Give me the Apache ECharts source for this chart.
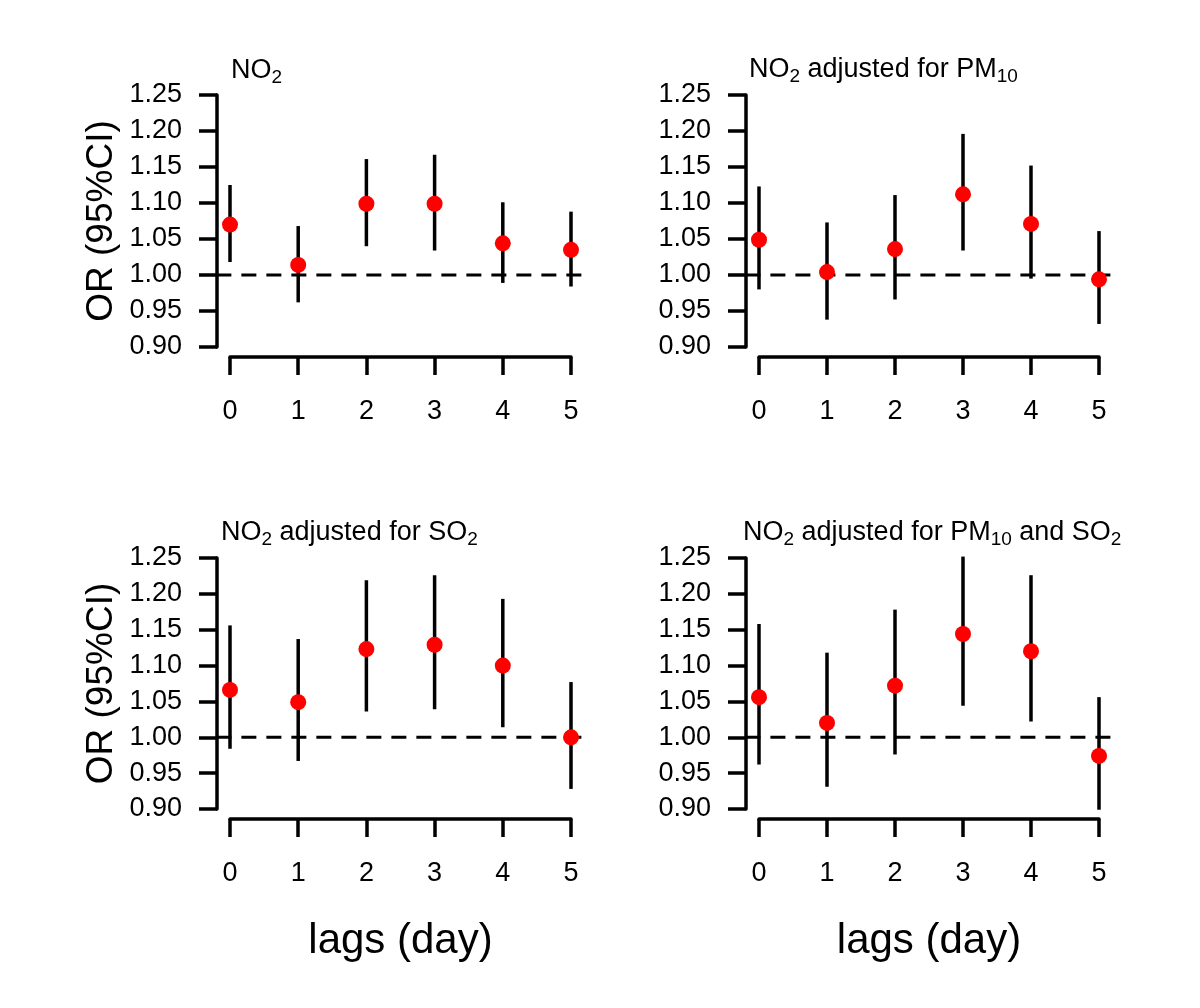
<!DOCTYPE html>
<html>
<head>
<meta charset="utf-8">
<script src="https://cdn.jsdelivr.net/npm/echarts@6/dist/echarts.min.js"></script>
<style>
  html, body { margin: 0; padding: 0; background: #fff; }
  #main { width: 1200px; height: 1008px; }
</style>
</head>
<body>
<div id="main"></div>
<script>
// lags (day)
var lags = [0, 1, 2, 3, 4, 5];
var refLine = 1;

// NO2
var no2Or = [1.070, 1.014, 1.099, 1.099, 1.044, 1.035];
var no2Lo = [1.018, 0.962, 1.040, 1.034, 0.989, 0.984];
var no2Hi = [1.125, 1.068, 1.161, 1.167, 1.101, 1.088];
// NO2 adjusted for PM10
var pmOr = [1.049, 1.004, 1.036, 1.112, 1.071, 0.994];
var pmLo = [0.980, 0.938, 0.966, 1.034, 0.995, 0.932];
var pmHi = [1.123, 1.073, 1.111, 1.196, 1.152, 1.061];
// NO2 adjusted for SO2
var soOr = [1.066, 1.049, 1.123, 1.129, 1.100, 1.000];
var soLo = [0.984, 0.967, 1.036, 1.039, 1.014, 0.928];
var soHi = [1.156, 1.137, 1.219, 1.226, 1.193, 1.077];
// NO2 adjusted for PM10 and SO2
var bothOr = [1.056, 1.020, 1.072, 1.144, 1.120, 0.974];
var bothLo = [0.962, 0.931, 0.976, 1.044, 1.022, 0.899];
var bothHi = [1.158, 1.118, 1.178, 1.252, 1.226, 1.056];

var FONT = 'Liberation Sans, Arial, Helvetica, sans-serif';

var panels = [
  { title: '{n|NO}{s|2}', left: 230, top: 95, height: 252, width: 341, tl: 231, tt: 57, yName: true, xName: false, or: no2Or, lo: no2Lo, hi: no2Hi },
  { title: '{n|NO}{s|2}{n| adjusted for PM}{s|10}', left: 759, top: 95, height: 252, width: 340, tl: 749, tt: 56, yName: false, xName: false, or: pmOr, lo: pmLo, hi: pmHi },
  { title: '{n|NO}{s|2}{n| adjusted for SO}{s|2}', left: 230, top: 558, height: 251, width: 341, tl: 221, tt: 519, yName: true, xName: true, or: soOr, lo: soLo, hi: soHi },
  { title: '{n|NO}{s|2}{n| adjusted for PM}{s|10}{n| and SO}{s|2}', left: 759, top: 558, height: 251, width: 340, tl: 743, tt: 519, yName: false, xName: true, or: bothOr, lo: bothLo, hi: bothHi }
];

var titleRich = {
  n: { fontSize: 27, fontFamily: FONT, fontWeight: 'normal', color: '#000', lineHeight: 30, verticalAlign: 'top' },
  s: { fontSize: 19, fontFamily: FONT, fontWeight: 'normal', color: '#000', lineHeight: 19, verticalAlign: 'bottom' }
};

var lineStyle = { color: '#000', width: 3.5 };

function renderBar(params, api) {
  var p1 = api.coord([api.value(0), api.value(1)]);
  var p2 = api.coord([api.value(0), api.value(2)]);
  return {
    type: 'line',
    shape: { x1: p1[0], y1: p1[1], x2: p2[0], y2: p2[1] },
    style: { stroke: '#000', lineWidth: 3.5 }
  };
}

function renderRef(params, api) {
  var v = api.value(0);
  var p1 = api.coord([-0.2, v]);
  var p2 = api.coord([5.2, v]);
  return {
    type: 'line',
    shape: { x1: p1[0], y1: p1[1], x2: p2[0], y2: p2[1] },
    style: { stroke: '#000', lineWidth: 3, lineDash: [15, 10] }
  };
}

var option = {
  backgroundColor: '#fff',
  animation: false,
  title: [], grid: [], xAxis: [], yAxis: [], series: []
};

panels.forEach(function (p, i) {
  option.title.push({
    text: p.title, left: p.tl, top: p.tt, padding: 0,
    textStyle: { fontWeight: 'normal', rich: titleRich }
  });
  option.grid.push({ left: p.left, top: p.top, width: p.width, height: p.height });
  option.xAxis.push({
    gridIndex: i, type: 'value', min: 0, max: 5, interval: 1, offset: 10,
    axisLine: { show: true, onZero: false, lineStyle: lineStyle },
    axisTick: { show: true, length: 18, lineStyle: lineStyle },
    axisLabel: { margin: 41, fontSize: 27, fontFamily: FONT, color: '#000', showMinLabel: true, showMaxLabel: true },
    splitLine: { show: false },
    name: p.xName ? 'lags (day)' : '', nameLocation: 'middle', nameGap: 101,
    nameTextStyle: { fontSize: 42, fontFamily: FONT, color: '#000' }
  });
  option.yAxis.push({
    gridIndex: i, type: 'value', min: 0.9, max: 1.25, interval: 0.05, offset: 13,
    axisLine: { show: true, onZero: false, lineStyle: lineStyle },
    axisTick: { show: true, length: 18, lineStyle: lineStyle },
    axisLabel: { margin: 35, fontSize: 27, fontFamily: FONT, color: '#000',
      formatter: function (v) { return v.toFixed(2); } },
    splitLine: { show: false },
    name: p.yName ? 'OR (95%CI)' : '', nameLocation: 'middle', nameRotate: 90, nameGap: 97,
    nameTextStyle: { fontSize: 37, fontFamily: FONT, color: '#000' }
  });
  option.series.push({
    type: 'custom', xAxisIndex: i, yAxisIndex: i, clip: false,
    renderItem: renderRef, data: [[refLine]], encode: { y: 0 }, z: 1, silent: true
  });
  option.series.push({
    type: 'custom', xAxisIndex: i, yAxisIndex: i, clip: false,
    renderItem: renderBar, encode: { x: 0, y: [1, 2] }, z: 2, silent: true,
    data: lags.map(function (x, j) { return [x, p.lo[j], p.hi[j]]; })
  });
  option.series.push({
    type: 'scatter', xAxisIndex: i, yAxisIndex: i, clip: false, z: 3,
    symbol: 'circle', symbolSize: 16, itemStyle: { color: '#ff0000', opacity: 1 },
    data: lags.map(function (x, j) { return [x, p.or[j]]; })
  });
});

var chart = echarts.init(document.getElementById('main'));
chart.setOption(option);
</script>
</body>
</html>
